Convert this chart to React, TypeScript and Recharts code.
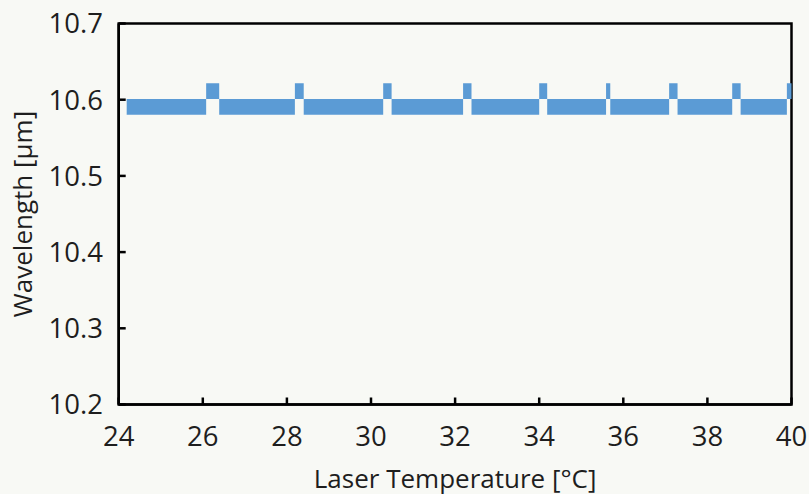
import React from 'react';
import { LineChart, Line, XAxis, YAxis, ReferenceArea } from 'recharts';

// laser temperature [°C] where each mode segment starts / ends
const bandStarts = [24.19, 26.39, 28.4, 30.49, 32.39, 34.19, 35.69, 37.29, 38.79];
const bandEnds = [26.08, 28.19, 30.29, 32.19, 34.0, 35.59, 37.09, 38.59, 39.89];
// short mode hops between segments
const hopStarts = [26.08, 28.19, 30.29, 32.19, 34.0, 35.59, 37.09, 38.59, 39.89];
const hopEnds = [26.39, 28.4, 30.49, 32.39, 34.19, 35.69, 37.29, 38.79, 40.0];

const bandWavelength = 10.5906;
const hopWavelength = 10.6112;

const xTicks = [24, 26, 28, 30, 32, 34, 36, 38, 40];
const yTicks = [10.2, 10.3, 10.4, 10.5, 10.6, 10.7];

const FONT = '"Open Sans", "Noto Sans", sans-serif';
const BLUE = '#5b9bd5';
const Y_MARGIN = 15.7;
const X_MARGIN = 22;
const TICK_LEN = 7;

const toSegments = (starts: number[], ends: number[], level: number) => {
  const pts: { t: number; w: number | null }[] = [];
  starts.forEach((s, i) => {
    pts.push({ t: s, w: level });
    pts.push({ t: ends[i], w: level });
    pts.push({ t: ends[i], w: null });
  });
  return pts;
};

const bandData = toSegments(bandStarts, bandEnds, bandWavelength);
const hopData = toSegments(hopStarts, hopEnds, hopWavelength);

const YTick = (props: any) => {
  const { x, y, payload } = props;
  const ax = x + Y_MARGIN;
  return (
    <g>
      <line x1={ax} x2={ax + TICK_LEN} y1={y} y2={y} stroke="#000" strokeWidth={2.5} />
      <text x={x} y={y} dy="0.36em" textAnchor="end" fontSize={27.5} fontFamily={FONT} fill="#1e1e1e">
        {payload.value.toFixed(1)}
      </text>
    </g>
  );
};

const XTick = (props: any) => {
  const { x, y, payload } = props;
  const ay = y - X_MARGIN;
  return (
    <g>
      <line x1={x} x2={x} y1={ay} y2={ay - TICK_LEN} stroke="#000" strokeWidth={2.5} />
      <text x={x} y={y} dy="0.71em" textAnchor="middle" fontSize={27.5} fontFamily={FONT} fill="#1e1e1e">
        {payload.value}
      </text>
    </g>
  );
};

export default function App() {
  return (
    <div style={{ width: 809, height: 494, background: '#f8f9f5' }}>
      <style>{'body{margin:0}'}</style>
      <LineChart width={809} height={494} margin={{ top: 23.5, right: 17.5, left: 0, bottom: 0 }}>
        <XAxis
          dataKey="t"
          type="number"
          domain={[24, 40]}
          ticks={xTicks}
          height={89.5}
          tickSize={0}
          tickMargin={X_MARGIN}
          tick={<XTick />}
          axisLine={{ stroke: '#000', strokeWidth: 2.5 }}
          allowDuplicatedCategory={false}
          label={{
            content: (p: any) => (
              <text
                x={p.viewBox.x + p.viewBox.width / 2}
                y={p.viewBox.y + 83}
                textAnchor="middle"
                fontSize={26}
                fontFamily={FONT}
                fill="#1e1e1e"
              >
                Laser Temperature [°C]
              </text>
            ),
          }}
        />
        <YAxis
          type="number"
          domain={[10.2, 10.7]}
          ticks={yTicks}
          width={118.7}
          tickSize={0}
          tickMargin={Y_MARGIN}
          tick={<YTick />}
          axisLine={{ stroke: '#000', strokeWidth: 2.5 }}
          label={{
            content: (p: any) => {
              const cx = 32;
              const cy = p.viewBox.y + p.viewBox.height / 2;
              return (
                <text
                  x={cx}
                  y={cy}
                  transform={`rotate(-90 ${cx} ${cy})`}
                  textAnchor="middle"
                  fontSize={26}
                  fontFamily={FONT}
                  fill="#1e1e1e"
                >
                  Wavelength [µm]
                </text>
              );
            },
          }}
        />
        <Line
          data={bandData}
          dataKey="w"
          stroke={BLUE}
          strokeWidth={15.7}
          strokeLinecap="butt"
          dot={false}
          activeDot={false}
          connectNulls={false}
          isAnimationActive={false}
        />
        <Line
          data={hopData}
          dataKey="w"
          stroke={BLUE}
          strokeWidth={15.7}
          strokeLinecap="butt"
          dot={false}
          activeDot={false}
          connectNulls={false}
          isAnimationActive={false}
        />
        <ReferenceArea x1={24} x2={40} y1={10.2} y2={10.7} fill="none" stroke="#000" strokeWidth={2.5} />
      </LineChart>
    </div>
  );
}
